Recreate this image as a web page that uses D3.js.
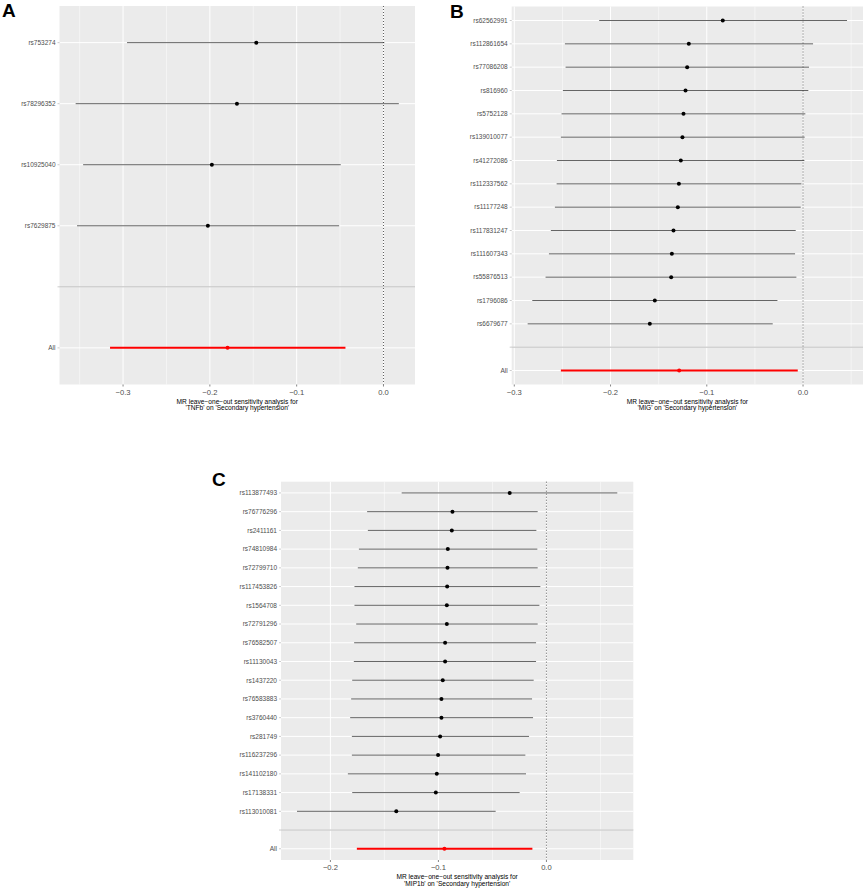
<!DOCTYPE html>
<html>
<head>
<meta charset="utf-8">
<script src="https://cdn.jsdelivr.net/npm/d3@7"></script>
<style>
  body { margin: 0; background: #fff; }
  svg text { font-family: "Liberation Sans", Arial, sans-serif; }
</style>
</head>
<body>
<div id="chart"></div>
<script>
// leave-one-out forest plots, 3 panels

// A - TNFb
const snpA = ['rs753274', 'rs78296352', 'rs10925040', 'rs7629875'];
const bA   = [-0.1465, -0.1688, -0.1977, -0.2023];
const loA  = [-0.2954, -0.3546, -0.3460, -0.3530];
const upA  = [0.0010, 0.0177, -0.0492, -0.0511];
const allA = [-0.1796, -0.3150, -0.0438];   // b, lo, up
const ticksA = [-0.3, -0.2, -0.1, 0.0];

// B - MIG
const snpB = ['rs62562991', 'rs112861654', 'rs77086208', 'rs816960', 'rs5752128',
  'rs139010077', 'rs41272086', 'rs112337562', 'rs11177248', 'rs117831247',
  'rs111607343', 'rs55876513', 'rs1796086', 'rs6679677'];
const bB  = [-0.0834, -0.1187, -0.1204, -0.1221, -0.1242, -0.1253, -0.1270,
  -0.1290, -0.1301, -0.1346, -0.1363, -0.1370, -0.1540, -0.1592];
const loB = [-0.2118, -0.2474, -0.2467, -0.2495, -0.2509, -0.2516, -0.2557,
  -0.2560, -0.2578, -0.2620, -0.2640, -0.2675, -0.2813, -0.2861];
const upB = [0.0457, 0.0104, 0.0062, 0.0055, 0.0024, 0.0017, 0.0014,
  -0.0017, -0.0024, -0.0076, -0.0083, -0.0069, -0.0266, -0.0315];
const allB = [-0.1287, -0.2516, -0.0055];
const ticksB = [-0.3, -0.2, -0.1, 0.0];

// C - MIP1b
const snpC = ['rs113877493', 'rs76776296', 'rs2411161', 'rs74810984', 'rs72799710',
  'rs117453826', 'rs1564708', 'rs72791296', 'rs76582507', 'rs11130043',
  'rs1437220', 'rs76583883', 'rs3760440', 'rs281749', 'rs116237296',
  'rs141102180', 'rs17138331', 'rs113010081'];
const bC  = [-0.0340, -0.0870, -0.0876, -0.0913, -0.0916, -0.0919, -0.0922,
  -0.0922, -0.0938, -0.0938, -0.0960, -0.0972, -0.0972, -0.0984, -0.1003,
  -0.1015, -0.1024, -0.1390];
const loC = [-0.1340, -0.1660, -0.1653, -0.1736, -0.1746, -0.1777, -0.1777,
  -0.1761, -0.1780, -0.1783, -0.1798, -0.1808, -0.1817, -0.1801, -0.1801,
  -0.1838, -0.1798, -0.2309];
const upC = [0.0656, -0.0081, -0.0093, -0.0084, -0.0081, -0.0056, -0.0065,
  -0.0081, -0.0096, -0.0096, -0.0118, -0.0133, -0.0124, -0.0161, -0.0195,
  -0.0189, -0.0248, -0.0470];
const allC = [-0.0944, -0.1755, -0.0130];
const ticksC = [-0.2, -0.1, 0.0];

const W = 865, H = 888;

const svg = d3.select('#chart')
  .append('svg')
  .attr('width', W)
  .attr('height', H)
  .attr('viewBox', '0 0 ' + W + ' ' + H);

function drawPanel(p) {
  let rows = p.snps.map((s, i) => ({ snp: s, b: p.b[i], lo: p.lo[i], up: p.up[i], all: false }));
  rows.push({ snp: 'All', b: p.all[0], lo: p.all[1], up: p.all[2], all: true });

  // ggplot style 5% expansion
  let ext = d3.extent(rows.flatMap(d => [d.lo, d.up]).concat([0]));
  let pad = (ext[1] - ext[0]) * 0.05;

  let x = d3.scaleLinear()
    .domain([ext[0] - pad, ext[1] + pad])
    .range([p.x0, p.x1]);

  let y = d3.scalePoint()
    .domain(p.snps.concat(['', 'All']))
    .range([p.y0, p.y1])
    .padding(0.6);

  let g = svg.append('g');

  g.append('rect')
    .attr('x', p.x0).attr('y', p.y0)
    .attr('width', p.x1 - p.x0).attr('height', p.y1 - p.y0)
    .attr('fill', '#EBEBEB');

  // minor grid
  let minor = p.ticks.map(t => t - 0.05).concat([p.ticks[p.ticks.length - 1] + 0.05])
    .filter(v => v > x.domain()[0] && v < x.domain()[1]);
  g.selectAll('.minor')
    .data(minor)
    .enter()
    .append('line')
    .attr('x1', d => x(d)).attr('x2', d => x(d))
    .attr('y1', p.y0).attr('y2', p.y1)
    .attr('stroke', '#fff').attr('stroke-width', 0.5);

  // major grid
  g.selectAll('.vmajor')
    .data(p.ticks)
    .enter()
    .append('line')
    .attr('x1', d => x(d)).attr('x2', d => x(d))
    .attr('y1', p.y0).attr('y2', p.y1)
    .attr('stroke', '#fff').attr('stroke-width', 1);

  g.selectAll('.hmajor')
    .data(y.domain())
    .enter()
    .append('line')
    .attr('x1', p.x0).attr('x2', p.x1)
    .attr('y1', d => y(d)).attr('y2', d => y(d))
    .attr('stroke', '#fff').attr('stroke-width', 1);

  // separator at the blank level
  g.append('line')
    .attr('x1', p.x0).attr('x2', p.x1)
    .attr('y1', y('')).attr('y2', y(''))
    .attr('stroke', '#BEBEBE').attr('stroke-width', 1);

  // zero line
  g.append('line')
    .attr('x1', x(0)).attr('x2', x(0))
    .attr('y1', p.y0).attr('y2', p.y1)
    .attr('stroke', '#333').attr('stroke-width', 0.8)
    .attr('stroke-dasharray', '1,2');

  // error bars
  g.selectAll('.bar')
    .data(rows)
    .enter()
    .append('line')
    .attr('x1', d => x(d.lo)).attr('x2', d => x(d.up))
    .attr('y1', d => y(d.snp)).attr('y2', d => y(d.snp))
    .attr('stroke', d => d.all ? '#FF0000' : '#222')
    .attr('stroke-width', d => d.all ? 2 : 0.7);

  g.selectAll('.pt')
    .data(rows)
    .enter()
    .append('circle')
    .attr('cx', d => x(d.b))
    .attr('cy', d => y(d.snp))
    .attr('r', 2)
    .attr('fill', d => d.all ? '#FF0000' : '#000');

  // y labels + ticks
  let lab = y.domain().filter(d => d !== '');
  g.selectAll('.ylab')
    .data(lab)
    .enter()
    .append('text')
    .attr('x', p.x0 - 4)
    .attr('y', d => y(d) + 2.3)
    .attr('text-anchor', 'end')
    .attr('font-size', 6.5)
    .attr('fill', '#4D4D4D')
    .text(d => d);

  g.selectAll('.ytick')
    .data(y.domain())
    .enter()
    .append('line')
    .attr('x1', p.x0 - 2).attr('x2', p.x0)
    .attr('y1', d => y(d)).attr('y2', d => y(d))
    .attr('stroke', '#999').attr('stroke-width', 0.5);

  // x axis
  let fmt = d3.format('.1f');
  g.selectAll('.xtick')
    .data(p.ticks)
    .enter()
    .append('line')
    .attr('x1', d => x(d)).attr('x2', d => x(d))
    .attr('y1', p.y1).attr('y2', p.y1 + 2)
    .attr('stroke', '#333').attr('stroke-width', 0.6);

  g.selectAll('.xlab')
    .data(p.ticks)
    .enter()
    .append('text')
    .attr('x', d => x(d))
    .attr('y', p.y1 + 10.3)
    .attr('text-anchor', 'middle')
    .attr('font-size', 7.6)
    .attr('fill', '#4D4D4D')
    .text(d => fmt(d));

  let cx = (p.x0 + p.x1) / 2;
  g.append('text')
    .attr('x', cx).attr('y', p.y1 + 19)
    .attr('text-anchor', 'middle')
    .attr('font-size', 6.6)
    .text('MR leave\u2212one\u2212out sensitivity analysis for');
  g.append('text')
    .attr('x', cx).attr('y', p.y1 + 25.5)
    .attr('text-anchor', 'middle')
    .attr('font-size', 6.6)
    .text("'" + p.exposure + "' on 'Secondary hypertension'");

  // panel letter
  svg.append('text')
    .attr('x', p.lx).attr('y', p.ly)
    .attr('font-size', 19)
    .attr('font-weight', 'bold')
    .text(p.letter);
}

drawPanel({ letter: 'A', lx: 2, ly: 16.5, exposure: 'TNFb',
  snps: snpA, b: bA, lo: loA, up: upA, all: allA, ticks: ticksA,
  x0: 59.5, x1: 415, y0: 6, y1: 384.5 });

drawPanel({ letter: 'B', lx: 450, ly: 17.5, exposure: 'MIG',
  snps: snpB, b: bB, lo: loB, up: upB, all: allB, ticks: ticksB,
  x0: 511.7, x1: 863, y0: 6.5, y1: 384.5 });

drawPanel({ letter: 'C', lx: 212, ly: 485.5, exposure: 'MIP1b',
  snps: snpC, b: bC, lo: loC, up: upC, all: allC, ticks: ticksC,
  x0: 281, x1: 633.3, y0: 481.7, y1: 860 });
</script>
</body>
</html>
